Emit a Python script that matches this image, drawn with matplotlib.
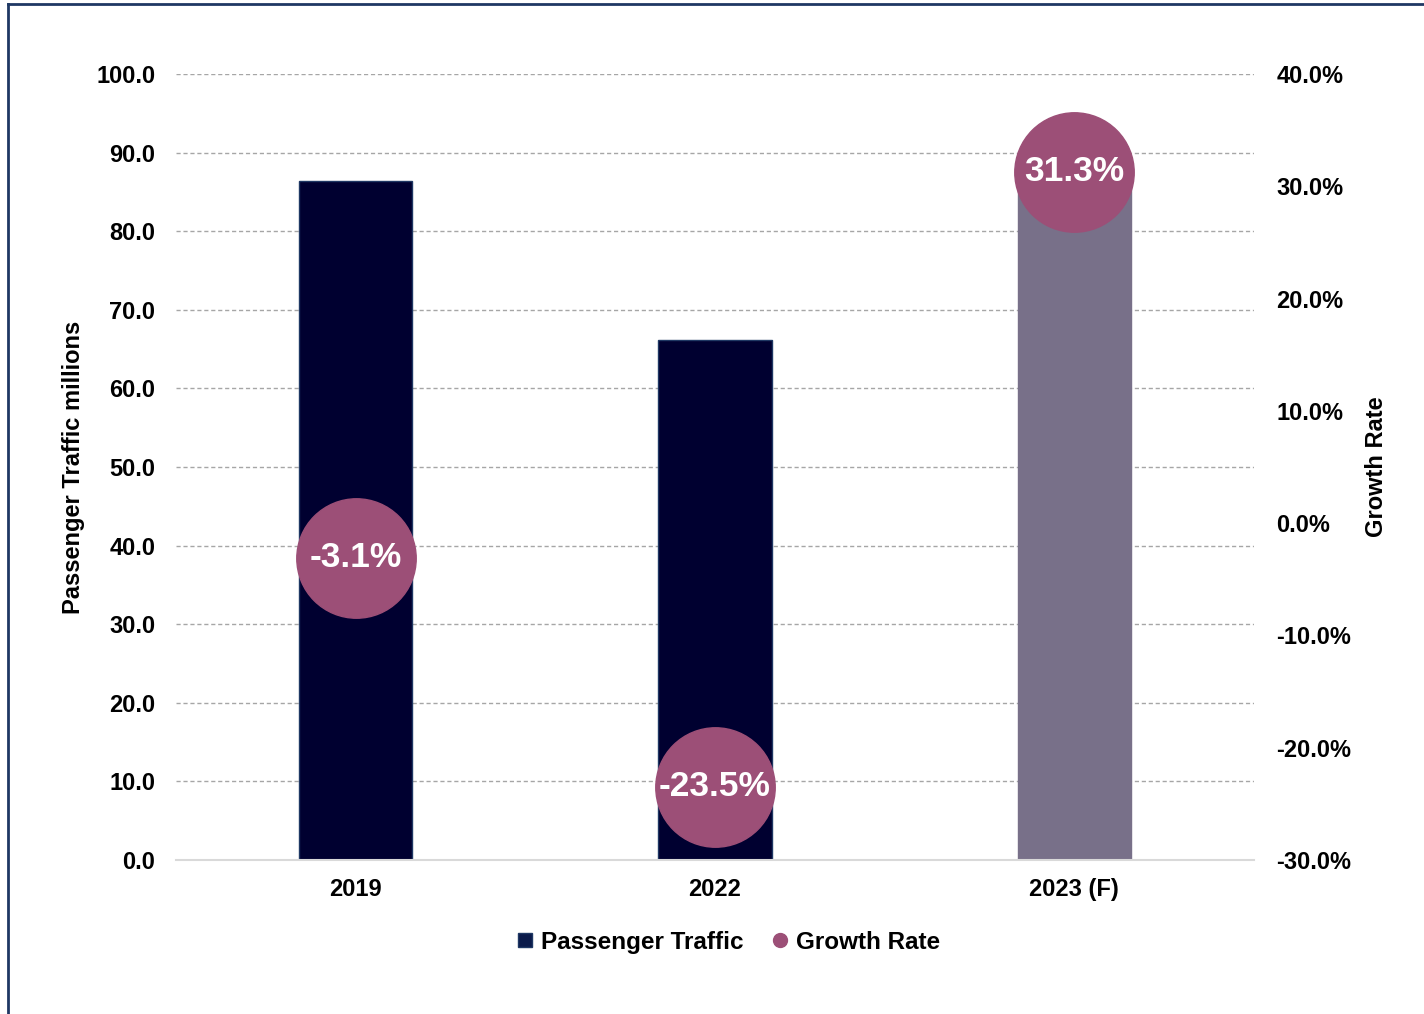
import matplotlib.pyplot as plt
import numpy as np
from matplotlib.lines import Line2D

plt.rcParams['font.family'] = ['Liberation Sans', 'DejaVu Sans']
plt.rcParams['font.weight'] = 'bold'

years = ['2019', '2022', '2023 (F)']
traffic = [86.4, 66.1, 86.8]
growth = [-3.1, -23.5, 31.3]
bar_colors = ['#000030', '#000030', '#787089']
circle_color = '#9C4F77'

fig = plt.figure(figsize=(14.24, 10.14), dpi=100)
ax = fig.add_axes([0.1236, 0.1519, 0.757, 0.7751])

x = np.arange(len(years))
ax.bar(x, traffic, width=0.315, color=bar_colors,
       edgecolor=['#1F3864', '#1F3864', '#787089'], linewidth=1, zorder=2)
ax.set_xlim(-0.5, 2.5)
ax.set_ylim(0, 100)
ax.set_yticks(np.arange(0, 101, 10))
ax.set_yticklabels([f'{v:.1f}' for v in np.arange(0, 101, 10)])
ax.set_xticks(x)
ax.set_xticklabels(years)
ax.yaxis.grid(True, linestyle=(0, (3, 2)), color='#A6A6A6', linewidth=1)
ax.set_axisbelow(True)
for s in ['top', 'right', 'left']:
    ax.spines[s].set_visible(False)
ax.spines['bottom'].set_color('#D9D9D9')
ax.spines['bottom'].set_linewidth(1.5)
ax.tick_params(axis='y', length=0, pad=15, labelsize=17)
ax.tick_params(axis='x', length=0, pad=13, labelsize=17)
ax.set_ylabel('Passenger Traffic millions', fontsize=17, fontweight='bold', labelpad=8)

ax2 = ax.twinx()
ax2.set_ylim(-30, 40)
ax2.set_yticks(np.arange(-30, 41, 10))
ax2.set_yticklabels([f'{v:.1f}%' for v in np.arange(-30, 41, 10)])
for s in ax2.spines.values():
    s.set_visible(False)
ax2.tick_params(axis='y', length=0, pad=16, labelsize=17)
ax2.set_ylabel('Growth Rate', fontsize=17, fontweight='bold', labelpad=10)
ax2.scatter(x, growth, s=86 ** 2, color=circle_color, zorder=3)
for xi, g in zip(x, growth):
    ax2.text(xi, g, f'{g:.1f}%', color='white', fontsize=25.5, fontweight='bold',
             ha='center', va='center', zorder=4)

handles = [
    Line2D([], [], marker='s', linestyle='none', markersize=10,
           markerfacecolor='#0A1A4A', markeredgecolor='#1F3864'),
    Line2D([], [], marker='o', linestyle='none', markersize=10,
           markerfacecolor=circle_color, markeredgecolor=circle_color),
]
fig.legend(handles, ['Passenger Traffic', 'Growth Rate'], loc='center',
           bbox_to_anchor=(0.51, 0.071), ncol=2, frameon=False,
           fontsize=17.5, handletextpad=0.15, columnspacing=1.0, handlelength=1.0)

# frame lines on left and top
fig.add_artist(Line2D([8 / 1424, 8 / 1424], [0, 1 - 4 / 1014], color='#1F3864', lw=2,
                      transform=fig.transFigure))
fig.add_artist(Line2D([8 / 1424, 1], [1 - 4 / 1014, 1 - 4 / 1014], color='#1F3864', lw=2,
                      transform=fig.transFigure))

fig.savefig('out.png', dpi=100)
